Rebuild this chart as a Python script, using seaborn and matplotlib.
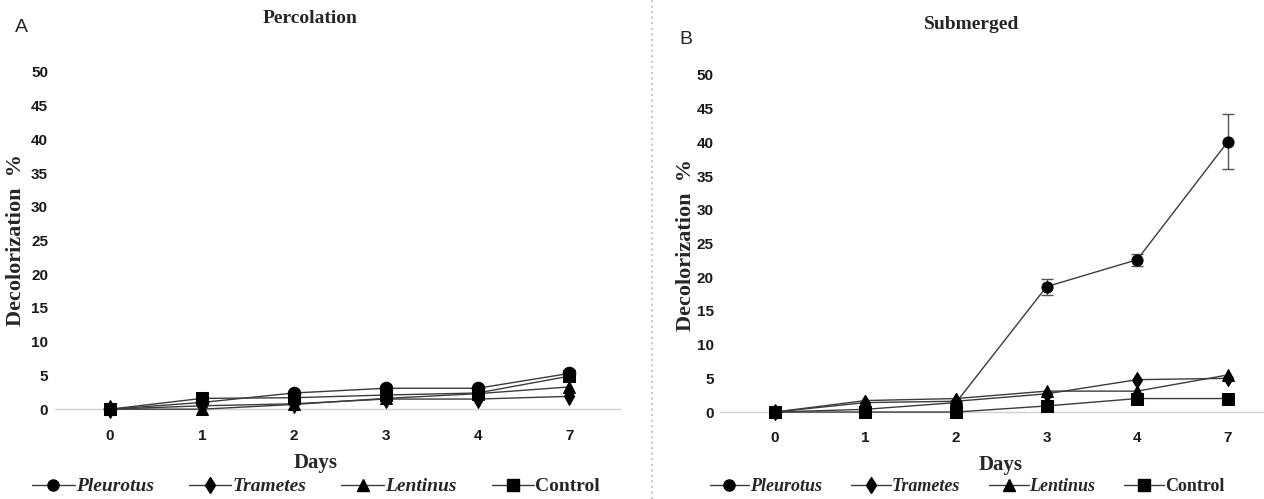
import numpy as np
import pandas as pd
import matplotlib
matplotlib.use("Agg")
import matplotlib.pyplot as plt
import seaborn as sns
from matplotlib.lines import Line2D

# Data
days = ["0", "1", "2", "3", "4", "7"]
fungi = ["Pleurotus", "Trametes", "Lentinus", "Control"]

# Panel A - Percolation
perc_pleurotus = [0, 1.0, 2.4, 3.1, 3.1, 5.3]
perc_trametes = [0, 0.5, 0.8, 1.5, 1.5, 1.9]
perc_lentinus = [0, 0.0, 0.7, 1.6, 2.3, 3.3]
perc_control = [0, 1.6, 1.7, 2.1, 2.4, 4.9]

# Panel B - Submerged
sub_pleurotus = [0, 0.4, 1.4, 18.6, 22.6, 40.1]
sub_trametes = [0, 1.4, 1.6, 2.7, 4.8, 5.0]
sub_lentinus = [0, 1.7, 2.0, 3.1, 3.1, 5.5]
sub_control = [0, 0.0, 0.0, 0.9, 2.0, 2.0]
sub_pleurotus_err = [0, 0, 0, 1.2, 0.9, 4.1]

markers = ["o", "d", "^", "s"]
line_col = "#3c3c3c"


def long_frame(series):
    rows = []
    for name, vals in zip(fungi, series):
        for i, v in enumerate(vals):
            rows.append({"pos": i, "Day": days[i], "Fungus": name, "value": v})
    return pd.DataFrame(rows)


sns.set_theme(style="white")
plt.rcParams["font.family"] = ["Liberation Serif", "DejaVu Serif"]

fig = plt.figure(figsize=(12.64, 4.99), dpi=100)
ax_a = fig.add_axes([0.0435, 0.180, 0.447, 0.676])
ax_b = fig.add_axes([0.570, 0.1743, 0.430, 0.6754])

tick_font = dict(family=["Liberation Sans Narrow", "Liberation Sans", "DejaVu Sans"],
                 weight="bold", size=11)


def draw_panel(ax, series, msize, xlim):
    df = long_frame(series)
    sns.lineplot(data=df, x="pos", y="value", style="Fungus", markers=markers,
                 dashes=False, color=line_col, markersize=msize, linewidth=1.0,
                 markerfacecolor="black", markeredgecolor="black",
                 legend=False, ax=ax, clip_on=False, zorder=3)
    ax.set_ylim(0, 50)
    ax.set_xlim(*xlim)
    ax.set_yticks(np.arange(0, 51, 5))
    ax.set_xticks(range(len(days)))
    ax.set_xticklabels(days)
    for lab in ax.get_xticklabels() + ax.get_yticklabels():
        lab.set_fontfamily(tick_font["family"])
        lab.set_fontweight("bold")
        lab.set_fontsize(tick_font["size"])
        lab.set_color("#1a1a1a")
    ax.tick_params(axis="both", length=0, pad=5)
    ax.tick_params(axis="x", pad=14)
    for s in ["top", "right", "left"]:
        ax.spines[s].set_visible(False)
    ax.spines["bottom"].set_color("#d0d0d0")
    ax.spines["bottom"].set_linewidth(1.0)
    ax.set_xlabel("")
    ax.set_ylabel("")
    ax.grid(False)


draw_panel(ax_a, [perc_pleurotus, perc_trametes, perc_lentinus, perc_control], 9, (-0.6, 5.55))
draw_panel(ax_b, [sub_pleurotus, sub_trametes, sub_lentinus, sub_control], 8, (-0.6, 5.4))

ax_b.errorbar(range(len(days)), sub_pleurotus, yerr=sub_pleurotus_err, fmt="none",
              ecolor="#555555", elinewidth=1.0, capsize=4, capthick=1.0, zorder=2)

# Titles and labels
fig.text(0.245, 0.962, "Percolation", ha="center", va="center", fontsize=14, weight="bold")
fig.text(0.769, 0.950, "Submerged", ha="center", va="center", fontsize=14, weight="bold")
fig.text(0.017, 0.945, "A", ha="center", va="center", fontsize=14,
         family=["Liberation Sans", "DejaVu Sans"])
fig.text(0.543, 0.920, "B", ha="center", va="center", fontsize=14,
         family=["Liberation Sans", "DejaVu Sans"])

fig.text(0.013, 0.52, "Decolorization  %", rotation=90, ha="center", va="center",
         fontsize=16, weight="bold")
fig.text(0.543, 0.51, "Decolorization  %", rotation=90, ha="center", va="center",
         fontsize=16, weight="bold")
fig.text(0.250, 0.073, "Days", ha="center", va="center", fontsize=15, weight="bold")
fig.text(0.792, 0.068, "Days", ha="center", va="center", fontsize=15, weight="bold")

# Legends
handles = [Line2D([0], [0], color=line_col, lw=1.0, marker=m, markerfacecolor="black",
                  markeredgecolor="black", markersize=8) for m in markers]


def add_legend(ax, x, y, fsize, spacing):
    leg = ax.legend(handles, fungi, loc="center", bbox_to_anchor=(x, y),
                    bbox_transform=fig.transFigure, ncol=4, frameon=False,
                    handlelength=2.2, handletextpad=0.05, columnspacing=spacing,
                    prop=dict(family=["Liberation Serif"], weight="bold", size=fsize))
    for t in leg.get_texts()[:3]:
        t.set_fontstyle("italic")
    return leg


add_legend(ax_a, 0.250, 0.025, 14, 1.8)
add_legend(ax_b, 0.765, 0.025, 13, 1.6)

# Divider between the two panels
fig.add_artist(Line2D([0.516, 0.516], [0, 1], transform=fig.transFigure,
                      color="#c8c8c8", lw=1.5, linestyle=":"))

fig.savefig("out.png", dpi=100)
